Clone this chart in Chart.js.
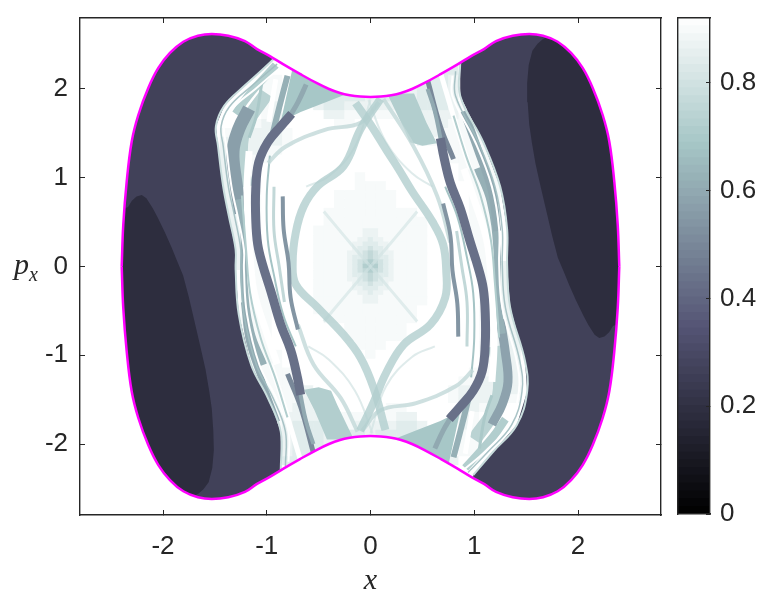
<!DOCTYPE html>
<html>
<head>
<meta charset="utf-8">
<title>Phase space map</title>
<script src="https://cdn.jsdelivr.net/npm/chart.js@4/dist/chart.umd.min.js"></script>
<style>
html, body { margin: 0; padding: 0; background: #fff; }
#wrap { position: relative; width: 769px; height: 605px; overflow: hidden; }
canvas { position: absolute; top: 0; }
#main { left: 0; }
#bar { left: 670px; }
#py { position: absolute; left: 14px; top: 247px; font: italic 30px "Liberation Serif"; color: #262626; }
#py sub { font-size: 20px; line-height: 0; }
</style>
</head>
<body>
<div id="wrap">
  <canvas id="main" width="769" height="605"></canvas>
  <canvas id="bar" width="99" height="605"></canvas>
  <div id="py">p<sub>x</sub></div>
</div>
<script>
var xTicks = [-2, -1, 0, 1, 2];
var pTicks = [-2, -1, 0, 1, 2];
var barTicks = [0, 0.2, 0.4, 0.6, 0.8];

// energy surface
var outlineX = [-2.398, -2.383, -2.35, -2.302, -2.238, -2.142, -2.045, -1.933, -1.804, -1.663, -1.53, -1.371, -1.21, -1.094, -0.97, -0.843, -0.68, -0.516, -0.4, -0.294, -0.2, -0.1, 0, 0.1, 0.2, 0.294, 0.4, 0.516, 0.68, 0.843, 0.97, 1.094, 1.21, 1.371, 1.53, 1.663, 1.804, 1.933, 2.045, 2.142, 2.238, 2.302, 2.35, 2.383, 2.398];
var outlineUp = [0, 0.468, 0.955, 1.406, 1.707, 2.011, 2.237, 2.406, 2.533, 2.6, 2.62, 2.6, 2.54, 2.45, 2.37, 2.28, 2.17, 2.065, 2.0, 1.955, 1.93, 1.915, 1.91, 1.915, 1.93, 1.955, 2.0, 2.065, 2.17, 2.28, 2.37, 2.45, 2.54, 2.6, 2.62, 2.6, 2.533, 2.406, 2.237, 2.011, 1.707, 1.406, 0.955, 0.468, 0];
var outlineDown = [0, -0.468, -0.955, -1.406, -1.707, -2.011, -2.237, -2.406, -2.533, -2.6, -2.62, -2.6, -2.54, -2.45, -2.37, -2.28, -2.17, -2.065, -2.0, -1.955, -1.93, -1.915, -1.91, -1.915, -1.93, -1.955, -2.0, -2.065, -2.17, -2.28, -2.37, -2.45, -2.54, -2.6, -2.62, -2.6, -2.533, -2.406, -2.237, -2.011, -1.707, -1.406, -0.955, -0.468, 0];

// heat cells, top row p = 2.4, left column x = -1.5, step 0.1
var cellLevels = { '2': 0.68, '3': 0.72, '4': 0.76, '5': 0.8, '6': 0.84, '7': 0.87, '8': 0.9, '9': 0.92 };
var heatRows = [
  "9999999999999999999999999999999",
  "9999999999999999999999999999999",
  "9999999976666666666666669999999",
  "9999988997666677777766679999999",
  "9999988997666677777766679999999",
  "9999988997666667667766679988999",
  "9999987999766777778766678988999",
  "9999987999977888888777778888999",
  "9998877999998899999777788888999",
  "9887777899999999999977888888999",
  "9777777899999999999978888888999",
  "9777788999999999999999888888999",
  "9777889999999999999999988888999",
  "9777899999999999999999998888999",
  "9777899999999989999999998888999",
  "9777899999999988899999999888999",
  "9777899999998888889999999888999",
  "9777899999998888889999999888999",
  "9777899999988888888899999888999",
  "9777899999988888888889999888999",
  "9777899999888888888889999888999",
  "9777899999888888888889999888999",
  "9777899999888888888889999888999",
  "9777899999888888888889999888999",
  "9777899999888888888889999987779",
  "9998889999888888888889999987779",
  "9998889999888888888889999987779",
  "9998889999888888888889999987779",
  "9998889999888888888889999987779",
  "9998889999888888888899999987779",
  "9998889999988888888899999987779",
  "9998889999999888888999999987779",
  "9998889999999888888999999987779",
  "9998889999999988899999999987779",
  "9998888999999998999999999987779",
  "9998888999999999999999999987779",
  "9998888899999999999999999887779",
  "9998888889999999999999998877779",
  "9998888887999999999999987777779",
  "9998888887799999999999987777889",
  "9998888877779999988999997788999",
  "9998888777778888887799997899999",
  "9998898766687877776679997899999",
  "9998899766677667666667998899999",
  "9999999766677777766667998899999",
  "9999999766677777766667998899999",
  "9999999666666666666666679999999",
  "9999999999999999999999999999999",
  "9999999999999999999999999999999"
];

// finer cells round the origin, top row p = 0.5, left column x = -0.3, step 0.05
var centreRows = [
  "8888888888888",
  "8888888888888",
  "8888877788888",
  "8888877788888",
  "8888776778888",
  "8887766677888",
  "8887665667888",
  "8877654567788",
  "8876654566788",
  "8876543456788",
  "8876532356788",
  "8876543456788",
  "8876654566788",
  "8877654567788",
  "8887665667888",
  "8887766677888",
  "8888776778888",
  "8888877788888",
  "8888877788888",
  "8888888888888",
  "8888888888888"
];

// dark regions outside the chaotic sea
var leftDark = [[-2.7, 2.9], [-0.913, 2.9], [-0.913, 2.36], [-1.03, 2.23], [-1.22, 2.03], [-1.41, 1.81], [-1.49, 1.58], [-1.47, 1.36], [-1.42, 0.9], [-1.365, 0.565], [-1.3, 0.19], [-1.3, -0.03], [-1.27, -0.54], [-1.15, -1.11], [-0.99, -1.48], [-0.865, -1.86], [-0.865, -2.29], [-0.865, -2.9], [-2.7, -2.9]];
var rightDark = [[0.865, 2.9], [0.865, 2.305], [0.865, 1.92], [1.087, 1.4], [1.25, 0.9], [1.317, 0.42], [1.317, 0.02], [1.346, -0.46], [1.49, -1.07], [1.51, -1.41], [1.41, -1.785], [1.18, -2.09], [0.99, -2.35], [0.99, -2.9], [2.7, -2.9], [2.7, 2.9]];
var leftBlob = [[-2.7, 0.5], [-2.337, 0.67], [-2.3, 0.74], [-2.255, 0.79], [-2.205, 0.806], [-2.16, 0.77], [-2.1, 0.66], [-2.05, 0.55], [-1.98, 0.38], [-1.916, 0.21], [-1.86, 0.05], [-1.806, -0.1], [-1.75, -0.35], [-1.7, -0.6], [-1.64, -0.9], [-1.59, -1.16], [-1.555, -1.4], [-1.53, -1.6], [-1.515, -1.85], [-1.51, -2.07], [-1.525, -2.27], [-1.56, -2.43], [-1.61, -2.51], [-1.66, -2.56], [-1.75, -2.62], [-1.75, -2.9], [-2.7, -2.9]];
var rightBlob = [[2.337, -0.67], [2.3, -0.74], [2.255, -0.79], [2.205, -0.806], [2.16, -0.77], [2.1, -0.66], [2.05, -0.55], [1.98, -0.38], [1.916, -0.21], [1.86, -0.05], [1.806, 0.1], [1.75, 0.35], [1.7, 0.6], [1.64, 0.9], [1.59, 1.16], [1.555, 1.4], [1.53, 1.6], [1.515, 1.85], [1.51, 2.07], [1.525, 2.27], [1.56, 2.43], [1.61, 2.51], [1.66, 2.56], [1.75, 2.62], [1.75, 2.9], [2.7, 2.9], [2.7, -0.5]];

// teal wedges under the energy surface
var wedgeTopLeft = [[-0.865, 1.63], [-0.72, 2.4], [-0.26, 2.1], [-0.26, 1.93], [-0.413, 1.86], [-0.673, 1.74]];
var wedgeBottomRight = [[0.865, -1.63], [0.673, -1.74], [0.413, -1.86], [0.26, -1.93], [0.26, -2.1], [0.72, -2.4]];
var wedgeTopRight = [[0.16, 1.95], [0.42, 1.95], [0.54, 1.62], [0.64, 1.39], [0.5, 1.36], [0.38, 1.4], [0.32, 1.56]];
var wedgeBottomLeft = [[-0.16, -1.95], [-0.42, -1.95], [-0.54, -1.62], [-0.64, -1.39], [-0.5, -1.36], [-0.38, -1.4], [-0.32, -1.56]];

// bands and stripes
var bandLeftS = [[0.096, 1.887], [-0.096, 1.548], [-0.26, 1.13], [-0.51, 0.904], [-0.644, 0.678], [-0.72, 0.384], [-0.75, 0.045], [-0.72, -0.203], [-0.51, -0.463], [-0.26, -0.768], [-0.096, -1.028], [0.029, -1.367], [0.144, -1.842]];
var bandRightS = [[-0.144, 1.842], [0, 1.6], [0.16, 1.3], [0.27, 1.1], [0.4, 0.85], [0.6, 0.5], [0.7, 0.25], [0.73, -0.05], [0.72, -0.35], [0.58, -0.65], [0.32, -0.88], [0.15, -1.2], [0.03, -1.53], [-0.1, -1.85]];
var thinUpLeft = [[-0.987, 1.167], [-0.82, 1.35], [-0.44, 1.54], [-0.096, 1.62], [0.08, 1.85]];
var thinUpRight = [[0.125, 1.887], [0.413, 1.356], [0.644, 0.79], [0.77, 0.27]];
var thinLowLeft = [[-0.125, -1.86], [-0.288, -1.48], [-0.548, -1.107], [-0.7, -0.655]];
var thinLowRight = [[-0.08, -1.85], [0.096, -1.62], [0.44, -1.54], [0.82, -1.35], [0.987, -1.167]];
var faintCross1 = [[-0.45, 0.62], [-0.2, 0.27], [0, 0], [0.22, -0.3], [0.45, -0.62]];
var faintCross2 = [[0.45, 0.62], [0.2, 0.27], [0, 0], [-0.22, -0.3], [-0.45, -0.62]];
var faintArcA = [[-0.62, 0.9], [-0.4, 1.02], [-0.15, 1.35], [0, 1.88]];
var faintArcB = [[0.6, 0.9], [0.4, 1.05], [0.15, 1.4], [-0.02, 1.88]];
var faintArcC = [[0.62, -0.9], [0.4, -1.02], [0.15, -1.35], [0, -1.88]];
var faintArcD = [[-0.6, -0.9], [-0.4, -1.05], [-0.15, -1.4], [0.02, -1.88]];
var darkLeft = [[-0.76, 1.72], [-0.865, 1.58], [-0.99, 1.4], [-1.077, 1.175], [-1.106, 0.87], [-1.106, 0.53], [-1.087, 0.25], [-1.04, 0.02], [-0.96, -0.28], [-0.865, -0.655], [-0.77, -0.94], [-0.71, -1.22], [-0.673, -1.446]];
var darkRight = [[0.673, 1.446], [0.71, 1.22], [0.77, 0.94], [0.865, 0.655], [0.96, 0.28], [1.04, -0.02], [1.087, -0.25], [1.106, -0.53], [1.106, -0.87], [1.077, -1.175], [0.99, -1.4], [0.865, -1.58], [0.76, -1.72]];
var tailTopLeft = [[-0.78, 1.69], [-0.7, 1.85], [-0.62, 2.05]];
var tailBottomRight = [[0.62, -2.05], [0.7, -1.85], [0.78, -1.69]];
var tailLowLeft = [[-0.68, -1.41], [-0.62, -1.75], [-0.55, -2.0]];
var tailUpRight = [[0.55, 2.0], [0.62, 1.75], [0.68, 1.41]];
var greyLeft = [[-1.27, 0.757], [-1.22, 0.36], [-1.22, -0.17], [-1.154, -0.734], [-1.03, -1.107]];
var greyRight = [[1.03, 1.107], [1.154, 0.734], [1.22, 0.17], [1.22, -0.36], [1.27, -0.757]];
var greyTopLeft = [[-1.17, 1.78], [-1.27, 1.55], [-1.325, 1.3], [-1.3, 0.97], [-1.25, 0.6]];
var greyLowRight = [[1.25, -0.6], [1.3, -0.97], [1.325, -1.3], [1.27, -1.55], [1.17, -1.78]];
var greyUpRight = [[0.9, 1.75], [1.04, 1.3], [1.17, 0.85], [1.22, 0.4]];
var greyLowLeft = [[-1.22, -0.4], [-1.17, -0.85], [-1.04, -1.3], [-0.9, -1.75]];
var paleBulge = [[1.2, -0.9], [1.25, -1.3], [1.2, -1.6], [1.0, -1.95]];
var paleBulgeTop = [[-1.0, 1.95], [-1.2, 1.6], [-1.25, 1.3], [-1.2, 0.9]];
var slimLeft = [[-0.846, 0.79], [-0.837, 0.418], [-0.79, 0.045], [-0.77, -0.35], [-0.7, -0.71]];
var slimRight = [[0.7, 0.71], [0.77, 0.35], [0.79, -0.045], [0.837, -0.418], [0.846, -0.79]];
var whiteLeft = [[-1.17, 1.3], [-1.19, 0.9], [-1.18, 0.5], [-1.16, 0.1], [-1.12, -0.3], [-1.0, -0.75], [-0.9, -1.1]];
var whiteRight = [[0.9, 1.1], [1.0, 0.75], [1.12, 0.3], [1.16, -0.1], [1.18, -0.5], [1.19, -0.9], [1.17, -1.3]];
var paleLeft = [[-0.93, 0.9], [-0.93, 0.4], [-0.88, 0], [-0.83, -0.4]];
var paleRight = [[0.83, 0.4], [0.88, 0], [0.93, -0.4], [0.93, -0.9]];
var seaLeftA = [[-0.97, 1.25], [-1.0, 0.8], [-0.99, 0.3], [-0.93, -0.1], [-0.84, -0.55], [-0.72, -0.9]];
var seaRightA = [[0.72, 0.9], [0.84, 0.55], [0.93, 0.1], [0.99, -0.3], [1.0, -0.8], [0.97, -1.25]];
var seaLeftB = [[-1.24, 0.8], [-1.2, 0.2], [-1.16, -0.3], [-1.06, -0.8], [-0.92, -1.25], [-0.8, -1.7]];
var seaRightB = [[0.8, 1.7], [0.92, 1.25], [1.06, 0.8], [1.16, 0.3], [1.2, -0.2], [1.24, -0.8]];
var seaLeftC = [[-1.05, 2.05], [-1.1, 1.7], [-1.17, 1.45]];
var seaRightC = [[1.17, -1.45], [1.1, -1.7], [1.05, -2.05]];
var topStripe = [[-0.8, 2.15], [-0.885, 1.77], [-0.94, 1.51]];
var bottomStripe = [[0.94, -1.51], [0.885, -1.77], [0.8, -2.15]];
var topWhite = [[-0.913, 2.11], [-0.98, 1.63]];
var bottomWhite = [[0.98, -1.63], [0.913, -2.11]];
var fanTop = [[-0.913, 2.27], [-1.18, 1.92], [-1.3, 1.72]];
var fanBottom = [[1.3, -1.72], [1.18, -1.92], [0.913, -2.27]];
var whiteUpRight = [[0.673, 2.19], [0.837, 1.55], [0.96, 1.1]];
var whiteLowLeft = [[-0.96, -1.1], [-0.837, -1.55], [-0.673, -2.19]];
var slateUpRight = [[0.548, 2.11], [0.673, 1.58], [0.8, 1.21]];
var slateLowLeft = [[-0.8, -1.21], [-0.673, -1.58], [-0.548, -2.11]];
var streakLeft = [[-0.9, 2.28], [-1.15, 2.03], [-1.36, 1.8], [-1.44, 1.58], [-1.42, 1.36], [-1.37, 0.9], [-1.31, 0.565], [-1.25, 0.19], [-1.25, -0.03], [-1.22, -0.54], [-1.1, -1.11], [-0.94, -1.48], [-0.82, -1.86], [-0.82, -2.25]];
var streakRight = [[0.82, 2.2], [0.82, 1.92], [1.04, 1.4], [1.2, 0.9], [1.27, 0.42], [1.27, 0.02], [1.3, -0.46], [1.44, -1.07], [1.46, -1.41], [1.36, -1.785], [1.13, -2.09], [0.94, -2.32]];
var innerStreakLeft = [[-0.87, 2.24], [-1.11, 2.0], [-1.33, 1.78], [-1.41, 1.58], [-1.39, 1.36], [-1.34, 0.9], [-1.28, 0.565], [-1.22, 0.19], [-1.22, -0.03], [-1.19, -0.54], [-1.07, -1.11], [-0.91, -1.48], [-0.79, -1.86], [-0.79, -2.2]];
var innerStreakRight = [[0.79, 2.15], [0.79, 1.92], [1.01, 1.4], [1.17, 0.9], [1.24, 0.42], [1.24, 0.02], [1.27, -0.46], [1.41, -1.07], [1.43, -1.41], [1.33, -1.785], [1.1, -2.09], [0.91, -2.28]];

// colour bar steps
var barEdges = [0, 0.014, 0.029, 0.043, 0.058, 0.072, 0.086, 0.101, 0.115, 0.129, 0.144, 0.158, 0.173, 0.187, 0.201, 0.216, 0.23, 0.244, 0.259, 0.273, 0.288, 0.302, 0.316, 0.331, 0.345, 0.359, 0.374, 0.388, 0.403, 0.417, 0.431, 0.446, 0.46, 0.474, 0.489, 0.503, 0.518, 0.532, 0.546, 0.561, 0.575, 0.589, 0.604, 0.618, 0.633, 0.647, 0.661, 0.676, 0.69, 0.704, 0.719, 0.733, 0.748, 0.762, 0.776, 0.791, 0.805, 0.819, 0.834, 0.848, 0.863, 0.877, 0.891, 0.906, 0.92];

var colorStops = [[0, 0, 0, 0], [0.345, 84, 84, 116], [0.69, 167, 199, 199], [0.92, 255, 255, 255]];

function colorOf(v, alpha) {
    var i = 0;
    while (i < colorStops.length - 2 && v > colorStops[i + 1][0]) i++;
    var a = colorStops[i], b = colorStops[i + 1];
    var t = Math.min(1, Math.max(0, (v - a[0]) / (b[0] - a[0])));
    var c = [1, 2, 3].map(function (k) { return Math.round(a[k] + (b[k] - a[k]) * t); });
    return 'rgba(' + c[0] + ',' + c[1] + ',' + c[2] + ',' + (alpha === undefined ? 1 : alpha) + ')';
}

function toPoints(pts) {
    return pts.map(function (p) { return { x: p[0], y: p[1] }; });
}

// line with a band look
function curve(pts, value, width, alpha) {
    return {
        type: 'line', data: toPoints(pts), borderColor: colorOf(value, alpha), borderWidth: width,
        tension: 0.4, pointRadius: 0, fill: false, borderCapStyle: 'butt'
    };
}

// filled polygon: the path has to start at its leftmost point and end at its rightmost
function shape(pts, value) {
    var lo = 0, hi = 0;
    pts.forEach(function (p, i) {
        if (p[0] < pts[lo][0]) lo = i;
        if (p[0] > pts[hi][0]) hi = i;
    });
    var ring = pts.slice(lo).concat(pts.slice(0, lo));
    ring.push(pts[lo], pts[hi]);
    return {
        type: 'line', data: toPoints(ring), borderWidth: 0, borderColor: 'transparent',
        backgroundColor: colorOf(value), fill: 'shape', tension: 0, pointRadius: 0
    };
}

function outlinePoints(values) {
    return outlineX.map(function (x, i) { return { x: x, y: values[i] }; });
}

function cellSet(rows, left, top, step, radius) {
    var points = [], colors = [];
    rows.forEach(function (row, r) {
        for (var c = 0; c < row.length; c++) {
            points.push({ x: left + c * step, y: top - r * step });
            colors.push(colorOf(cellLevels[row[c]]));
        }
    });
    return { type: 'scatter', data: points, pointStyle: 'rect', pointRadius: radius, pointBorderWidth: 0, pointBackgroundColor: colors };
}

var layers = [
    cellSet(heatRows, -1.5, 2.4, 0.1, 7.7),
    cellSet(centreRows, -0.3, 0.5, 0.05, 3.9),
    shape(wedgeTopLeft, 0.69),
    shape(wedgeBottomRight, 0.69),
    shape(wedgeTopRight, 0.72),
    shape(wedgeBottomLeft, 0.72),
    curve(paleBulge, 0.74, 14),
    curve(paleBulgeTop, 0.74, 14),
    curve(fanTop, 0.72, 8),
    curve(fanBottom, 0.72, 8),
    curve(greyTopLeft, 0.57, 13),
    curve(greyLowRight, 0.58, 9),
    curve(greyLeft, 0.62, 7),
    curve(greyRight, 0.62, 7),
    curve(greyUpRight, 0.6, 8),
    curve(greyLowLeft, 0.6, 6),
    curve(whiteLeft, 0.92, 7),
    curve(whiteRight, 0.92, 7),
    curve(topStripe, 0.62, 6),
    curve(bottomStripe, 0.62, 6),
    curve(slateUpRight, 0.5, 5),
    curve(slateLowLeft, 0.5, 5),
    curve(topWhite, 0.92, 5),
    curve(bottomWhite, 0.92, 5),
    curve(whiteUpRight, 0.92, 5),
    curve(whiteLowLeft, 0.92, 5),
    curve(paleLeft, 0.76, 3),
    curve(paleRight, 0.76, 3),
    curve(seaLeftA, 0.68, 2),
    curve(seaRightA, 0.68, 2),
    curve(seaLeftB, 0.72, 2),
    curve(seaRightB, 0.72, 2),
    curve(seaLeftC, 0.7, 3),
    curve(seaRightC, 0.7, 3),
    curve(faintCross1, 0.8, 3, 0.6),
    curve(faintCross2, 0.8, 3, 0.6),
    curve(faintArcA, 0.8, 2, 0.7),
    curve(faintArcB, 0.8, 2, 0.7),
    curve(faintArcC, 0.8, 2, 0.7),
    curve(faintArcD, 0.8, 2, 0.7),
    curve(thinUpLeft, 0.76, 4, 0.8),
    curve(thinUpRight, 0.76, 4, 0.8),
    curve(thinLowLeft, 0.76, 4, 0.8),
    curve(thinLowRight, 0.76, 4, 0.8),
    curve(bandLeftS, 0.72, 8, 0.8),
    curve(bandRightS, 0.72, 8, 0.8),
    curve(tailTopLeft, 0.6, 5),
    curve(tailBottomRight, 0.6, 5),
    curve(tailLowLeft, 0.6, 4),
    curve(tailUpRight, 0.6, 4),
    curve(darkLeft, 0.43, 9),
    curve(darkRight, 0.43, 9),
    curve(slimLeft, 0.54, 4),
    curve(slimRight, 0.54, 4),
    curve(innerStreakLeft, 0.92, 2),
    curve(innerStreakRight, 0.92, 2),
    shape(leftDark, 0.265),
    shape(rightDark, 0.265),
    shape(leftBlob, 0.185),
    shape(rightBlob, 0.185),
    curve(streakLeft, 0.66, 1.5, 0.9),
    curve(streakRight, 0.66, 1.5, 0.9),
    curve(leftDark.slice(2, 17), 0.78, 2),
    curve(rightDark.slice(1, 13), 0.78, 2)
];

// white masks keep the marks inside the energy surface, they overlap a little along p = 0
var upMask = [{ x: -2.8, y: -0.05 }, { x: -2.42, y: -0.05 }].concat(outlinePoints(outlineUp), [{ x: 2.42, y: -0.05 }, { x: 2.8, y: -0.05 }]);
var downMask = [{ x: -2.8, y: 0.05 }, { x: -2.42, y: 0.05 }].concat(outlinePoints(outlineDown), [{ x: 2.42, y: 0.05 }, { x: 2.8, y: 0.05 }]);
layers.push({ type: 'line', data: upMask, borderWidth: 0, borderColor: 'transparent', backgroundColor: '#fff', fill: 'end', tension: 0.4, pointRadius: 0 });
layers.push({ type: 'line', data: downMask, borderWidth: 0, borderColor: 'transparent', backgroundColor: '#fff', fill: 'start', tension: 0.4, pointRadius: 0 });
layers.push({ type: 'line', data: outlinePoints(outlineUp), borderColor: '#f0f', borderWidth: 2.5, tension: 0.4, pointRadius: 0, fill: false });
layers.push({ type: 'line', data: outlinePoints(outlineDown), borderColor: '#f0f', borderWidth: 2.5, tension: 0.4, pointRadius: 0, fill: false });

// first dataset in sorted order goes on top
layers.forEach(function (d, i) { d.order = layers.length - i; });

var tickFont = { family: 'Liberation Sans', size: 26 };
var inkColor = '#262626';

function pin(size) {
    return function (s) {
        if (s.isHorizontal()) s.height = size; else s.width = size;
        s.paddingLeft = s.paddingRight = s.paddingTop = s.paddingBottom = 0;
    };
}

function setTicks(values) {
    return function (s) {
        s.ticks = values.map(function (v) { return { value: v }; });
    };
}

function frameAxis(position, axis, values, size, showLabels) {
    return {
        type: 'linear', position: position, axis: axis, min: -2.8, max: 2.8,
        afterFit: pin(size), afterBuildTicks: setTicks(values),
        border: { display: true, color: inkColor, width: 1.4, z: 3 },
        grid: { drawOnChartArea: false, drawTicks: true, tickLength: -5, tickColor: inkColor, tickWidth: 1, z: 2 },
        ticks: { display: showLabels, color: inkColor, font: tickFont, padding: axis === 'x' ? 21 : 17, maxRotation: 0 }
    };
}

var xAxis = frameAxis('bottom', 'x', xTicks, 90, true);
xAxis.title = { display: true, text: 'x', color: inkColor, font: { family: 'Liberation Serif', style: 'italic', size: 30 }, padding: { top: 0, bottom: 6 } };

var mainChart = new Chart(document.getElementById('main').getContext('2d'), {
    type: 'scatter',
    data: { datasets: layers },
    options: {
        responsive: false,
        animation: false,
        layout: { padding: 0 },
        plugins: { legend: { display: false }, tooltip: { enabled: false } },
        scales: {
            x: xAxis,
            y: frameAxis('left', 'y', pTicks, 80, true),
            x2: frameAxis('top', 'x', xTicks, 18, false),
            y2: frameAxis('right', 'y', pTicks, 108, false)
        }
    }
});

var barSets = barEdges.slice(0, -1).map(function (lo, i) {
    return { data: [[lo, barEdges[i + 1]]], backgroundColor: colorOf((lo + barEdges[i + 1]) / 2), borderWidth: 0, grouped: false, barPercentage: 1, categoryPercentage: 1 };
});

var barBorder = { display: true, color: inkColor, width: 1.4, z: 3 };
var barChart = new Chart(document.getElementById('bar').getContext('2d'), {
    type: 'bar',
    data: { labels: [''], datasets: barSets },
    options: {
        responsive: false,
        animation: false,
        layout: { padding: 0 },
        plugins: { legend: { display: false }, tooltip: { enabled: false } },
        scales: {
            x: { afterFit: pin(91), border: barBorder, grid: { display: false }, ticks: { display: false } },
            y: {
                position: 'right', min: 0, max: 0.92, afterFit: pin(59), afterBuildTicks: setTicks(barTicks),
                border: barBorder,
                grid: { drawOnChartArea: false, tickLength: -4, tickColor: inkColor, z: 2 },
                ticks: { color: inkColor, font: tickFont, padding: 14 }
            },
            xTop: { axis: 'x', position: 'top', type: 'category', afterFit: pin(18), border: barBorder, grid: { display: false }, ticks: { display: false } },
            yLeft: { axis: 'y', position: 'left', min: 0, max: 0.92, afterFit: pin(8), border: barBorder, grid: { display: false }, ticks: { display: false } }
        }
    }
});
</script>
</body>
</html>
